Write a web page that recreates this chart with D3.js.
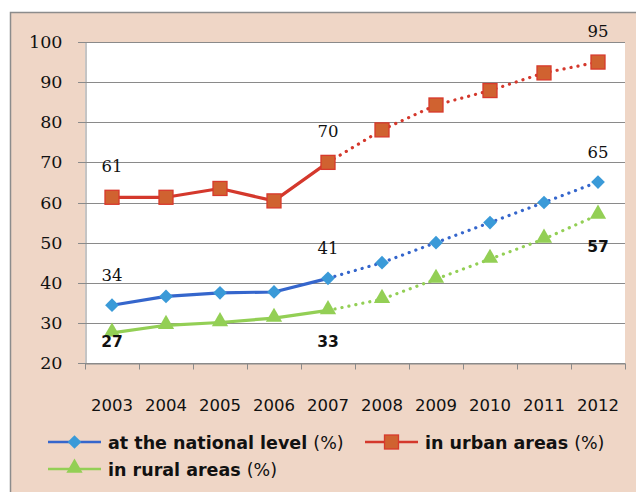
<!DOCTYPE html>
<html>
<head>
<meta charset="utf-8">
<script src="https://cdn.jsdelivr.net/npm/d3@7"></script>
<style>
	body { margin: 0; background: #fff; }
	svg { display: block; }
</style>
</head>
<body>
<div id="chart"></div>
<script>
// Data
const years = ['2003', '2004', '2005', '2006', '2007', '2008', '2009', '2010', '2011', '2012'];
const national = [34.4, 36.6, 37.5, 37.7, 41.1, 45.0, 50.0, 55.0, 60.0, 65.1];
const urban = [61.3, 61.3, 63.5, 60.4, 70.0, 78.1, 84.3, 87.9, 92.3, 95.0];
const rural = [27.5, 29.4, 30.1, 31.2, 33.1, 35.9, 40.9, 45.9, 50.9, 56.9];
const yTicks = [20, 30, 40, 50, 60, 70, 80, 90, 100];
const seriesNames = ['at the national level', 'in urban areas', 'in rural areas'];
// value labels shown on the chart
const labelYears = ['2003', '2007', '2012'];
const urbanLabels = ['61', '70', '95'];
const nationalLabels = ['34', '41', '65'];
const ruralLabels = ['27', '33', '57'];

const width = 636;
const height = 492;
const marginLeft = 85;
const marginRight = 11;
const marginTop = 42;
const plotBottom = 363;

const svg = d3.select('#chart')
	.append('svg')
	.attr('width', width)
	.attr('height', height);

// pink frame
svg.append('rect')
	.attr('x', 10.5).attr('y', 12.5)
	.attr('width', width).attr('height', height)
	.attr('fill', '#efd6c6')
	.attr('stroke', '#8c8c8c')
	.attr('stroke-width', 1.5);

const x = d3.scaleBand()
	.domain(years)
	.range([marginLeft, width - marginRight]);

const y = d3.scaleLinear()
	.domain([20, 100])
	.range([plotBottom, marginTop]);

// plot area
svg.append('rect')
	.attr('x', marginLeft).attr('y', marginTop)
	.attr('width', x.range()[1] - marginLeft)
	.attr('height', plotBottom - marginTop)
	.attr('fill', '#fff');

// gridlines
svg.append('g')
	.selectAll('line')
	.data(yTicks)
	.join('line')
	.attr('x1', marginLeft - 7)
	.attr('x2', x.range()[1])
	.attr('y1', (d) => Math.round(y(d)) + 0.5)
	.attr('y2', (d) => Math.round(y(d)) + 0.5)
	.attr('stroke', '#8a8a8a')
	.attr('stroke-width', 1);

// y axis
const yAxis = svg.append('g')
	.attr('transform', 'translate(' + (marginLeft + 0.5) + ',0)')
	.call(d3.axisLeft(y).tickValues(yTicks).tickSize(0).tickPadding(23));
yAxis.select('.domain').attr('stroke', '#8a8a8a');
yAxis.selectAll('text')
	.attr('fill', '#111')
	.style('font-family', '"DejaVu Serif", serif')
	.style('font-size', '17.5px');

// x axis
const xAxis = svg.append('g')
	.attr('transform', 'translate(0,' + (plotBottom + 0.5) + ')')
	.call(d3.axisBottom(x).tickSize(0).tickPadding(36));
xAxis.select('.domain').attr('stroke', '#8a8a8a');
xAxis.selectAll('text')
	.attr('fill', '#111')
	.style('font-family', '"DejaVu Sans", sans-serif')
	.style('font-size', '16.5px');
xAxis.append('g')
	.selectAll('line')
	.data(years.concat(['end']))
	.join('line')
	.attr('x1', (d, i) => Math.round(marginLeft + i * x.bandwidth()) + 0.5)
	.attr('x2', (d, i) => Math.round(marginLeft + i * x.bandwidth()) + 0.5)
	.attr('y1', 0).attr('y2', 6)
	.attr('stroke', '#8a8a8a');

const cx = (d) => x(d) + x.bandwidth() / 2;

const series = [
	{ name: seriesNames[1], values: urban, line: '#d4382c', fill: '#d06230', stroke: '#d8392c', shape: 'square' },
	{ name: seriesNames[0], values: national, line: '#3566cc', fill: '#3a9ad8', stroke: '#3a9ad8', shape: 'diamond' },
	{ name: seriesNames[2], values: rural, line: '#93cf55', fill: '#93cf55', stroke: '#93cf55', shape: 'triangle' }
];

const line = d3.line()
	.x((d) => cx(d[0]))
	.y((d) => y(d[1]));

function marker(g, s, px, py) {
	if (s.shape === 'square') {
		g.append('rect')
			.attr('x', px - 7).attr('y', py - 7)
			.attr('width', 14).attr('height', 14)
			.attr('fill', s.fill)
			.attr('stroke', s.stroke)
			.attr('stroke-width', 1.3);
	} else if (s.shape === 'diamond') {
		g.append('path')
			.attr('d', d3.symbol(d3.symbolDiamond2, 120)())
			.attr('transform', 'translate(' + px + ',' + py + ')')
			.attr('fill', s.fill);
	} else {
		g.append('path')
			.attr('d', d3.symbol(d3.symbolTriangle, 115)())
			.attr('transform', 'translate(' + px + ',' + (py - 1) + ')')
			.attr('fill', s.fill);
	}
}

// draw the lines: solid up to 2007, dotted after
series.slice().reverse().forEach(function (s) {
	const pts = years.map((yr, i) => [yr, s.values[i]]);
	const g = svg.append('g');
	g.append('path')
		.attr('d', line(pts.slice(0, 5)))
		.attr('fill', 'none')
		.attr('stroke', s.line)
		.attr('stroke-width', 3.2)
		.attr('stroke-linejoin', 'round');
	g.append('path')
		.attr('d', line(pts.slice(4)))
		.attr('fill', 'none')
		.attr('stroke', s.line)
		.attr('stroke-width', 3.2)
		.attr('stroke-linecap', 'round')
		.attr('stroke-dasharray', '0.1 7');
	pts.forEach((p) => marker(g, s, cx(p[0]), y(p[1])));
});

// data labels
const labels = svg.append('g');
labelYears.forEach(function (yr, k) {
	const i = years.indexOf(yr);
	labels.append('text')
		.attr('x', cx(yr)).attr('y', y(urban[i]) - 25)
		.attr('text-anchor', 'middle')
		.style('font-family', '"DejaVu Serif", serif')
		.style('font-size', '16.5px')
		.attr('fill', '#111')
		.text(urbanLabels[k]);
	labels.append('text')
		.attr('x', cx(yr)).attr('y', y(national[i]) - 24)
		.attr('text-anchor', 'middle')
		.style('font-family', '"DejaVu Serif", serif')
		.style('font-size', '16.5px')
		.attr('fill', '#111')
		.text(nationalLabels[k]);
	labels.append('text')
		.attr('x', cx(yr)).attr('y', Math.min(y(rural[i]) + 37, plotBottom - 16))
		.attr('text-anchor', 'middle')
		.style('font-family', '"DejaVu Sans", sans-serif')
		.style('font-weight', 'bold')
		.style('font-size', '15.5px')
		.attr('fill', '#111')
		.text(ruralLabels[k]);
});

// legend
const legendPos = [[48, 442], [365, 442], [48, 469]];
const legendOrder = [series[1], series[0], series[2]];
legendOrder.forEach(function (s, i) {
	const g = svg.append('g').attr('transform', 'translate(' + legendPos[i] + ')');
	g.append('line')
		.attr('x1', 0).attr('x2', 53)
		.attr('stroke', s.line)
		.attr('stroke-width', 2.5);
	marker(g, s, 26.5, 0);
	const t = g.append('text')
		.attr('x', 60).attr('y', 6.5)
		.style('font-family', '"DejaVu Sans", sans-serif')
		.style('font-size', '17.5px')
		.attr('fill', '#111');
	t.append('tspan').style('font-weight', 'bold').text(s.name + ' ');
	t.append('tspan').text('(%)');
});
</script>
</body>
</html>
